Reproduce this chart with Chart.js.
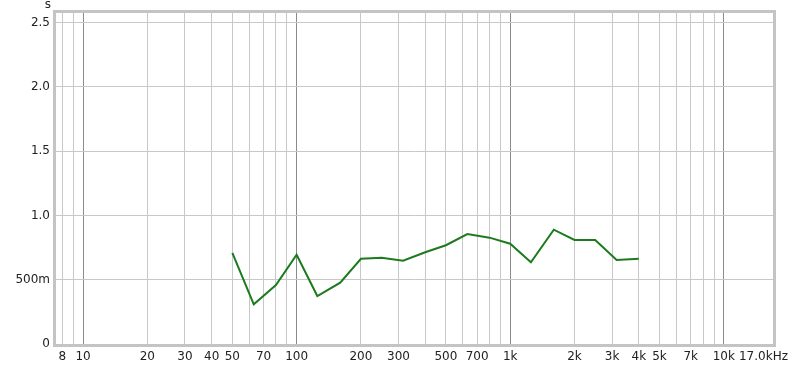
<!DOCTYPE html>
<html>
<head>
<meta charset="utf-8">
<script src="https://cdn.jsdelivr.net/npm/chart.js@4"></script>
<style>
    html, body { margin: 0; padding: 0; background: #fff; }
    #wrap { width: 800px; height: 365px; }
</style>
</head>
<body>
<div id="wrap"><canvas id="rt-chart" width="800" height="365"></canvas></div>
<script>
// Third-octave band centres (Hz) and decay time (s)
const bandFreqs = [50, 63, 80, 100, 125, 160, 200, 250, 315, 400, 500, 630, 800, 1000, 1250, 1600, 2000, 2500, 3150, 4000];
const decayTimes = [0.708, 0.309, 0.459, 0.694, 0.373, 0.477, 0.663, 0.671, 0.648, 0.713, 0.768, 0.855, 0.827, 0.780, 0.635, 0.889, 0.809, 0.809, 0.653, 0.663];

// Axis ranges and ticks
const xMin = 7.47, xMax = 17000;
const yMin = 0, yMax = 2.574;
const xGridTicks = [8, 9, 10, 20, 30, 40, 50, 60, 70, 80, 90, 100, 200, 300, 400, 500, 600, 700, 800, 900,
    1000, 2000, 3000, 4000, 5000, 6000, 7000, 8000, 9000, 10000, 17000];
const xTickValues = [8, 10, 20, 30, 40, 50, 70, 100, 200, 300, 500, 700, 1000, 2000, 3000, 4000, 5000, 7000, 10000, 17000];
const xTickLabels = ['8', '10', '20', '30', '40', '50', '70', '100', '200', '300', '500', '700', '1k', '2k', '3k', '4k', '5k', '7k', '10k', '17.0kHz'];
const decadeTicks = [10, 100, 1000, 10000];
const yTickValues = [0, 0.5, 1.0, 1.5, 2.0, 2.5];
const yTickLabels = ['0', '500m', '1.0', '1.5', '2.0', '2.5'];

const frame = {
    id: 'frame',
    afterDraw(chart) {
        const a = chart.chartArea, ctx = chart.ctx;
        ctx.save();
        ctx.strokeStyle = '#c4c4c4';
        ctx.lineWidth = 3;
        ctx.strokeRect(a.left - 1.5, a.top - 1.5, a.right - a.left + 3, a.bottom - a.top + 3);
        ctx.fillStyle = '#222';
        ctx.font = '12px "DejaVu Sans"';
        ctx.textAlign = 'center';
        ctx.textBaseline = 'middle';
        ctx.fillText('s', 48, 5);
        ctx.restore();
    }
};

// keep the plot area fixed; labels may hang past it
function noPad(s) {
    s.paddingLeft = 0; s.paddingRight = 0; s.paddingTop = 0; s.paddingBottom = 0;
}

const ctx = document.getElementById('rt-chart').getContext('2d');
new Chart(ctx, {
    type: 'line',
    data: {
        datasets: [{
            data: bandFreqs.map((f, i) => ({ x: f, y: decayTimes[i] })),
            borderColor: '#1e7a1e',
            borderWidth: 2,
            pointRadius: 0,
            tension: 0,
            fill: false
        }]
    },
    options: {
        responsive: false,
        animation: false,
        layout: { padding: { left: 0, right: 27, top: 13, bottom: 0 } },
        plugins: { legend: { display: false }, tooltip: { enabled: false } },
        scales: {
            x: {
                type: 'logarithmic',
                min: xMin,
                max: xMax,
                afterBuildTicks: s => { s.ticks = xGridTicks.map(v => ({ value: v })); },
                afterFit: s => { s.height = 21; noPad(s); },
                border: { display: false },
                grid: {
                    drawTicks: false,
                    color: c => decadeTicks.includes(c.tick && c.tick.value) ? '#8a8a8a' : '#c8c8c8',
                    lineWidth: 1
                },
                ticks: {
                    autoSkip: false,
                    maxRotation: 0,
                    padding: 6,
                    color: '#222',
                    font: { family: 'DejaVu Sans', size: 12 },
                    callback: function(value) {
                        const i = xTickValues.indexOf(value);
                        if (i < 0) return '';
                        // last label sits left of the frame edge
                        return value === xMax ? xTickLabels[i] + '     ' : xTickLabels[i];
                    }
                }
            },
            y: {
                min: yMin,
                max: yMax,
                afterBuildTicks: s => { s.ticks = yTickValues.map(v => ({ value: v })); },
                afterFit: s => { s.width = 56; noPad(s); },
                border: { display: false },
                grid: { drawTicks: false, color: '#c8c8c8', lineWidth: 1 },
                ticks: {
                    padding: 6,
                    color: '#222',
                    font: { family: 'DejaVu Sans', size: 12 },
                    callback: function(value) {
                        const i = yTickValues.indexOf(value);
                        return i >= 0 ? yTickLabels[i] : '';
                    }
                }
            }
        }
    },
    plugins: [frame]
});
</script>
</body>
</html>
